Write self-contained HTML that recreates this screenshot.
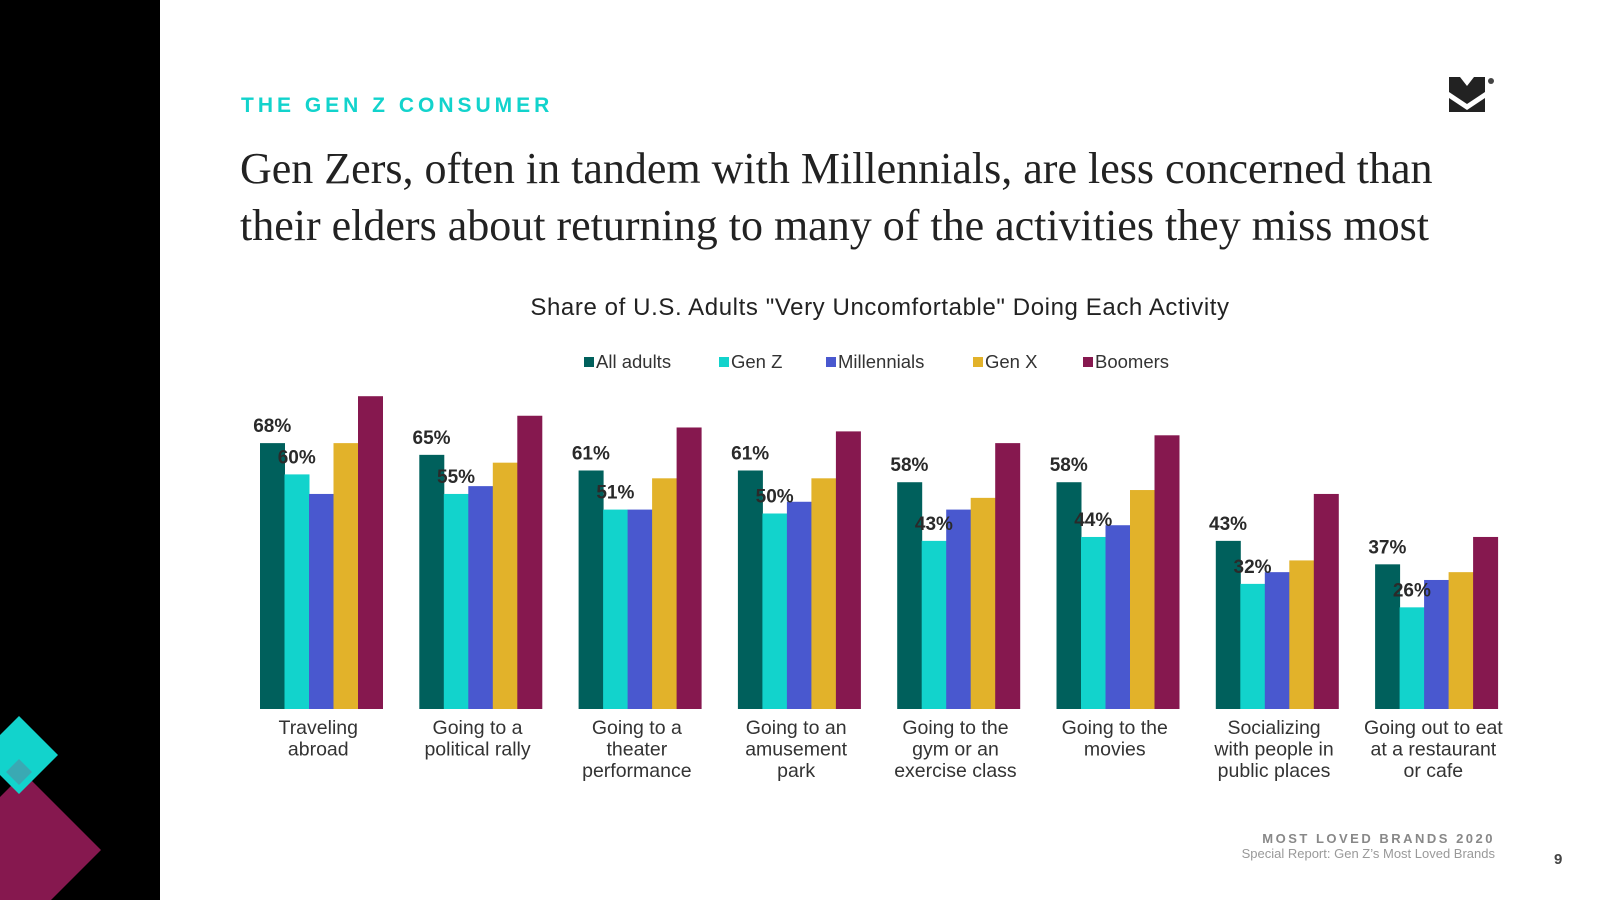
<!DOCTYPE html>
<html><head><meta charset="utf-8"><style>
html,body{margin:0;width:1600px;height:900px;overflow:hidden}
body{background:#fff;font-family:"Liberation Sans",sans-serif;position:relative}
.abs{position:absolute}
</style></head><body>
<div class="abs" style="left:0;top:0;width:160px;height:900px;background:#000"></div>
<svg class="abs" style="left:0;top:690px" width="160" height="210">
<polygon points="-53,160 24,83 101,160 24,237" fill="#86184f"/>
<polygon points="-20,65 19,26 58,65 19,104" fill="#12d3cc"/>
<polygon points="6,82 19,69 32,82 19,95" fill="#3aa9b3"/>
</svg>
<div class="abs" style="left:241px;top:94px;font-size:21px;font-weight:bold;letter-spacing:4px;color:#12d3cc">THE GEN Z CONSUMER</div>
<div class="abs" style="left:240px;top:140px;font-family:'Liberation Serif',serif;font-size:44px;line-height:57px;color:#222;width:1260px;white-space:nowrap">Gen Zers, often in tandem with Millennials, are less concerned than<br>their elders about returning to many of the activities they miss most</div>
<svg class="abs" style="left:1449px;top:76px" width="50" height="40"><polygon points="0,1 11,1 18,10 25,1 36,1 36,16 18,28 0,16" fill="#222"/><polygon points="0,22 18,34 36,22 36,36 0,36" fill="#222"/><circle cx="42" cy="5" r="3" fill="#444"/></svg>
<svg class="abs" id="chart" style="left:0;top:0" width="1600" height="900"></svg>
<div class="abs" style="right:105px;top:831px;font-size:13px;font-weight:bold;letter-spacing:2.5px;color:#888">MOST LOVED BRANDS 2020</div>
<div class="abs" style="right:105px;top:846px;font-size:13px;color:#999">Special Report: Gen Z’s Most Loved Brands</div>
<div class="abs" style="left:1554px;top:851px;font-size:15px;font-weight:bold;color:#444">9</div>
<script>
const categories=[["Traveling","abroad"],["Going to a","political rally"],["Going to a","theater","performance"],["Going to an","amusement","park"],["Going to the","gym or an","exercise class"],["Going to the","movies"],["Socializing","with people in","public places"],["Going out to eat","at a restaurant","or cafe"]];
const seriesNames=["All adults","Gen Z","Millennials","Gen X","Boomers"];
const colors=["#00605c","#12d3cc","#4958cf","#e2b22a","#86184f"];
const allAdults=[68,65,61,61,58,58,43,37];
const genZ=[60,55,51,50,43,44,32,26];
const millennials=[55,57,51,53,51,47,35,33];
const genX=[68,63,59,59,54,56,38,35];
const boomers=[80,75,72,71,68,70,55,44];
const series=[allAdults,genZ,millennials,genX,boomers];
const labeled=[0,1];
const NS="http://www.w3.org/2000/svg";
const svg=document.getElementById('chart');
const baseY=709,pxPer=3.91,x0=260,groupW=159.3,barW=24.5;
const y=v=>baseY-v*pxPer;
const x=(g,s)=>x0+g*groupW+s*barW;
function mk(t,a){const e=document.createElementNS(NS,t);for(const k in a)e.setAttribute(k,a[k]);svg.appendChild(e);return e;}
const st=mk('text',{x:880,y:315,'text-anchor':'middle','font-size':24,'letter-spacing':0.6,fill:'#222'});


st.textContent='Share of U.S. Adults "Very Uncomfortable" Doing Each Activity';
const legX=[584,719,826,973,1083];
seriesNames.forEach((n,i)=>{
 const r=mk('rect',{x:legX[i],y:357,width:10,height:10,fill:colors[i]});
 
 
 const t=mk('text',{x:legX[i]+12,y:368,'font-size':18.5,fill:'#333'});
 
 
 t.textContent=n;
});
categories.forEach((c,g)=>{
 series.forEach((s,i)=>{
  const r=mk('rect',{x:x(g,i),y:y(s[g]),width:barW+0.5,height:baseY-y(s[g]),fill:colors[i]});
  
  
 });
 labeled.forEach(i=>{
  const t=mk('text',{x:x(g,i)+barW/2,y:y(series[i][g])-11,'text-anchor':'middle','font-size':19,'font-weight':'bold',fill:'#2a2a2a'});
  
  
  t.textContent=series[i][g]+'%';
 });
 c.forEach((line,li)=>{
  const t=mk('text',{x:x(g,0)+barW*2.5-3,y:734+li*21.5,'text-anchor':'middle','font-size':19.5,fill:'#333'});
  
  
  t.textContent=line;
 });
});
</script>
</body></html>
